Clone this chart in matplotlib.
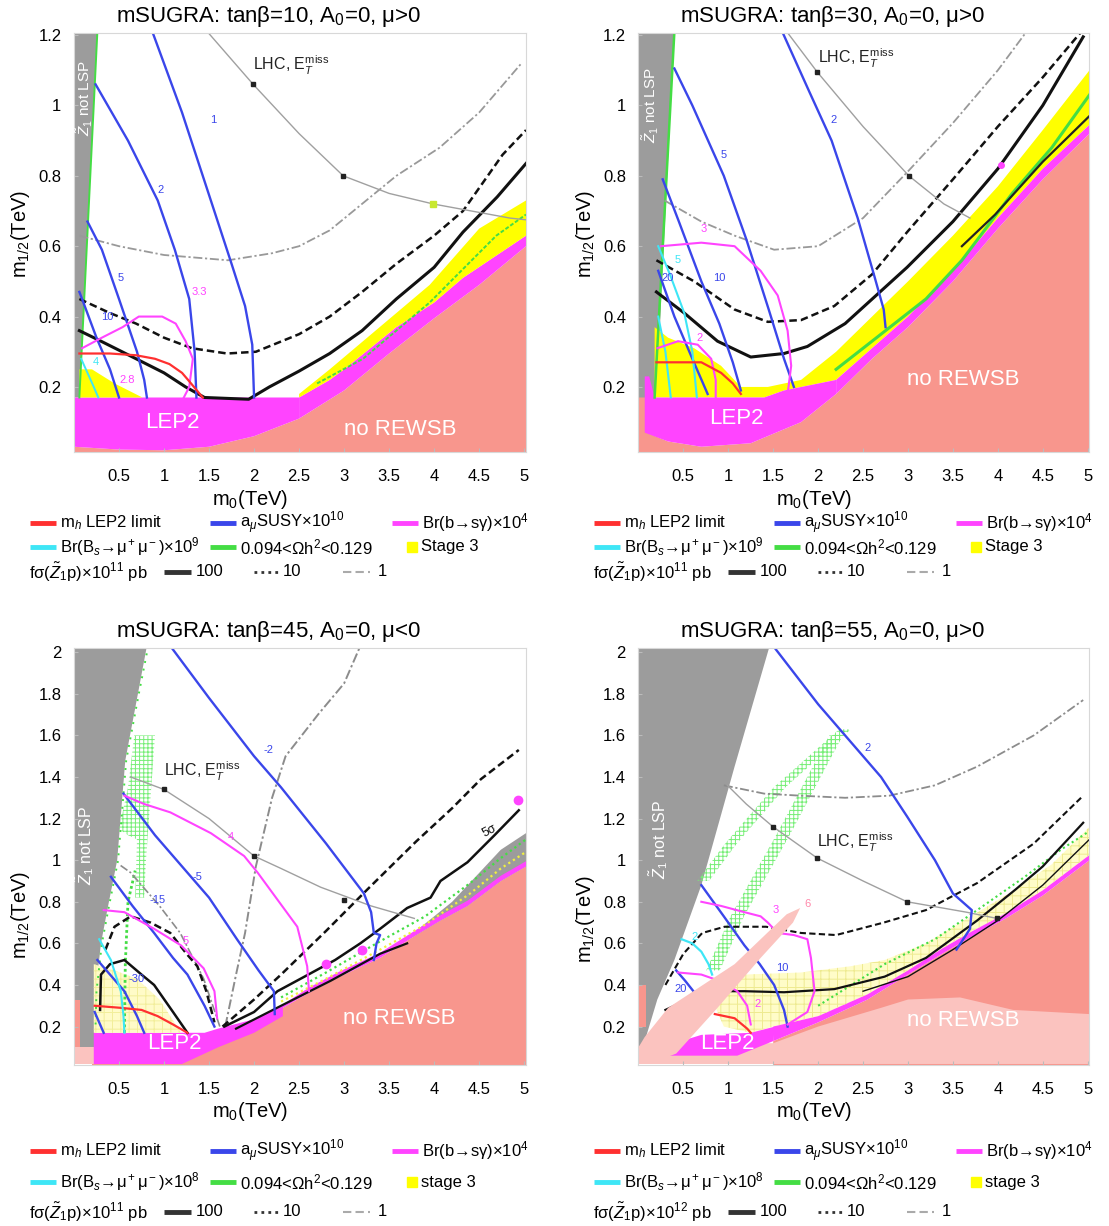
import matplotlib
matplotlib.use('Agg')
import matplotlib.pyplot as plt
from matplotlib.ticker import FuncFormatter

plt.rcParams['font.family'] = ['Liberation Sans', 'DejaVu Sans']
plt.rcParams['mathtext.fontset'] = 'custom'
plt.rcParams['mathtext.rm'] = 'Liberation Sans'
plt.rcParams['mathtext.it'] = 'Liberation Sans:italic'
plt.rcParams['mathtext.bf'] = 'Liberation Sans:bold'
plt.rcParams['hatch.linewidth'] = 0.7

SALMON = '#f8968d'
PALE = '#fbc3bf'
MAGENTA = '#ff44ff'
YELLOW = '#ffff00'
GRAY = '#9c9c9c'
GREEN = '#44dd44'
BLUE = '#3a46ea'
CYAN = '#3ee6f6'
RED = '#ff3030'

# ---------------- tan(beta)=10, mu>0 ----------------
tb10_not_lsp = [(0, 0.17), (0.06, 0.17), (0.26, 1.21), (0, 1.21)]
tb10_rewsb = [(0, 0.03), (0.5, 0.022), (1.0, 0.02), (1.5, 0.03), (2.0, 0.06), (2.5, 0.11),
              (3.0, 0.19), (3.5, 0.295), (4.0, 0.395), (4.5, 0.49), (5.02, 0.6)]
tb10_bsg_band = [(2.5, 0.17), (2.84, 0.22), (3.0, 0.25), (3.58, 0.37), (4.0, 0.44), (4.32, 0.51), (5.02, 0.63)]
tb10_stage3 = [(2.5, 0.18), (2.84, 0.25), (3.21, 0.33), (3.95, 0.49), (4.5, 0.65), (5.02, 0.73)]
tb10_stage3_low = [(0.06, 0.17), (0.06, 0.25), (0.2, 0.25), (0.45, 0.21), (0.76, 0.17)]
tb10_relic = [(2.7, 0.21), (3.21, 0.28), (3.95, 0.44), (4.69, 0.63), (5.02, 0.69)]
tb10_relic_edge = [(0.06, 0.17), (0.26, 1.21)]
tb10_sig100 = [(0.06, 0.36), (0.3, 0.33), (0.69, 0.28), (1.0, 0.24), (1.24, 0.2), (1.45, 0.17),
               (1.94, 0.165), (2.17, 0.2), (2.5, 0.245), (2.84, 0.295), (3.2, 0.36), (3.58, 0.45),
               (4.0, 0.54), (4.32, 0.64), (4.7, 0.74), (5.02, 0.835)]
tb10_sig10 = [(0.06, 0.45), (0.4, 0.41), (0.69, 0.38), (1.0, 0.34), (1.31, 0.31), (1.7, 0.295),
              (2.02, 0.3), (2.5, 0.35), (2.84, 0.4), (3.2, 0.47), (3.58, 0.55), (4.0, 0.63),
              (4.32, 0.7), (4.76, 0.86), (5.02, 0.93)]
tb10_sig1 = [(0.06, 0.63), (0.5, 0.6), (1.0, 0.575), (1.71, 0.56), (2.2, 0.58), (2.5, 0.6),
             (2.84, 0.645), (3.58, 0.8), (4.06, 0.88), (4.5, 0.98), (4.97, 1.12)]
tb10_lhc = [(1.48, 1.21), (1.99, 1.06), (2.5, 0.92), (2.99, 0.8), (3.5, 0.75), (3.99, 0.72), (4.84, 0.68), (5.02, 0.675)]
tb10_lhc_marks = [(1.99, 1.06), (2.99, 0.8), (3.99, 0.72)]
tb10_amu_1 = [(0.87, 1.21), (1.2, 0.98), (1.52, 0.73), (1.75, 0.55), (1.9, 0.43), (1.98, 0.32), (2.0, 0.17)]
tb10_amu_2 = [(0.24, 1.06), (0.6, 0.9), (0.93, 0.73), (1.12, 0.59), (1.28, 0.45), (1.34, 0.3), (1.36, 0.17)]
tb10_amu_5 = [(0.15, 0.67), (0.31, 0.59), (0.5, 0.45), (0.7, 0.3), (0.78, 0.22), (0.81, 0.17)]
tb10_amu_10 = [(0.06, 0.47), (0.09, 0.45), (0.25, 0.34), (0.4, 0.25), (0.5, 0.17)]
tb10_bsg = [(0.09, 0.31), (0.31, 0.34), (0.54, 0.37), (0.72, 0.4), (0.98, 0.4), (1.13, 0.38),
            (1.24, 0.33), (1.32, 0.28), (1.28, 0.2), (1.22, 0.17)]
tb10_mh = [(0.06, 0.295), (0.4, 0.295), (0.69, 0.29), (0.9, 0.28), (1.06, 0.265), (1.2, 0.24),
           (1.3, 0.21), (1.43, 0.17)]
tb10_bsmm = [(0.08, 0.28), (0.15, 0.24), (0.22, 0.2), (0.27, 0.17)]

# ---------------- tan(beta)=30, mu>0 ----------------
tb30_not_lsp = [(0, 0.17), (0.2, 0.17), (0.4, 1.21), (0, 1.21)]
tb30_rewsb = [(0, 0.08), (0.33, 0.045), (0.7, 0.03), (1.25, 0.04), (1.81, 0.1), (2.2, 0.18),
              (2.6, 0.28), (3.0, 0.37), (3.5, 0.5), (4.0, 0.65), (4.5, 0.79), (5.02, 0.92)]
tb30_rewsb_left = [(0, 0.03), (0.07, 0.03), (0.07, 0.22), (0, 0.22)]
tb30_lep2 = [(0.07, 0.07), (0.33, 0.045), (0.7, 0.03), (1.25, 0.04), (1.81, 0.1), (2.2, 0.18),
             (2.2, 0.22), (1.62, 0.19), (1.4, 0.17), (0.18, 0.17), (0.12, 0.23), (0.07, 0.23)]
tb30_bsg_band = [(2.2, 0.22), (2.6, 0.31), (3.0, 0.4), (3.5, 0.53), (4.0, 0.68), (4.5, 0.82), (5.02, 0.945)]
tb30_stage3 = [(0.18, 0.17), (0.18, 0.37), (0.33, 0.34), (0.62, 0.31), (0.92, 0.26), (1.14, 0.2),
               (1.44, 0.2), (1.81, 0.22), (2.2, 0.3), (2.6, 0.4), (3.0, 0.5), (3.5, 0.63),
               (4.0, 0.77), (4.5, 0.93), (5.02, 1.1)]
tb30_relic = [(2.2, 0.25), (2.8, 0.37), (3.2, 0.45), (3.6, 0.56), (4.16, 0.75), (4.6, 0.88), (5.02, 1.03)]
tb30_relic_edge = [(0.18, 0.17), (0.4, 1.21)]
tb30_sig100_edge = [(3.6, 0.6), (3.97, 0.69), (4.5, 0.84), (5.02, 0.97)]
tb30_sig100 = [(0.2, 0.47), (0.51, 0.41), (0.88, 0.33), (1.25, 0.285), (1.62, 0.295), (1.88, 0.315),
               (2.3, 0.38), (2.99, 0.54), (3.5, 0.67), (4.0, 0.82), (4.5, 1.0), (4.95, 1.195)]
tb30_sig10 = [(0.2, 0.56), (0.62, 0.5), (1.07, 0.42), (1.44, 0.385), (1.81, 0.39), (2.18, 0.43),
              (2.6, 0.52), (2.99, 0.64), (3.5, 0.79), (4.0, 0.94), (4.5, 1.08), (4.93, 1.21)]
tb30_sig1 = [(0.29, 0.73), (0.7, 0.67), (1.07, 0.63), (1.51, 0.59), (2.0, 0.6), (2.5, 0.68),
             (2.99, 0.81), (3.5, 0.95), (4.0, 1.1), (4.32, 1.21)]
tb30_lhc = [(1.65, 1.21), (1.99, 1.095), (2.5, 0.94), (3.01, 0.8), (3.4, 0.72), (3.69, 0.68)]
tb30_lhc_marks = [(1.99, 1.095), (3.01, 0.8)]
tb30_amu_2 = [(1.6, 1.21), (1.9, 1.04), (2.15, 0.9), (2.44, 0.68), (2.62, 0.52), (2.73, 0.42), (2.75, 0.37)]
tb30_amu_5 = [(0.4, 1.105), (0.6, 1.0), (0.95, 0.8), (1.2, 0.62), (1.45, 0.42), (1.62, 0.28), (1.73, 0.2)]
tb30_amu_10 = [(0.27, 0.79), (0.45, 0.67), (0.7, 0.5), (0.9, 0.38), (1.05, 0.27), (1.14, 0.19)]
tb30_amu_20 = [(0.22, 0.53), (0.4, 0.4), (0.6, 0.28), (0.77, 0.18)]
tb30_bsmm_5 = [(0.22, 0.6), (0.35, 0.52), (0.51, 0.41), (0.6, 0.3), (0.65, 0.17)]
tb30_bsmm_b = [(0.22, 0.4), (0.3, 0.3), (0.36, 0.17)]
tb30_bsg_3 = [(0.25, 0.6), (0.7, 0.61), (1.07, 0.6), (1.36, 0.53), (1.55, 0.46), (1.66, 0.36),
              (1.7, 0.26), (1.66, 0.18)]
tb30_bsg_2 = [(0.21, 0.31), (0.44, 0.33), (0.66, 0.32), (0.81, 0.28), (0.86, 0.22), (0.86, 0.17)]
tb30_mh = [(0.2, 0.27), (0.7, 0.27), (0.92, 0.24), (1.05, 0.21), (1.14, 0.18)]

# ---------------- tan(beta)=45, mu<0 ----------------
tb45_not_lsp = [(0, 0.02), (0.23, 0.02), (0.23, 0.21), (0.24, 0.37), (0.3, 0.6), (0.37, 0.76),
                (0.48, 1.0), (0.57, 1.48), (0.71, 1.8), (0.81, 2.03), (0, 2.03)]
tb45_rewsb_left = [(0, 0.1), (0.07, 0.1), (0.07, 0.33), (0, 0.33)]
tb45_pale_left = [(0, 0.02), (0.23, 0.02), (0.23, 0.1), (0, 0.1)]
tb45_rewsb = [(0.2, 0.03), (1.2, 0.03), (1.6, 0.17), (2.0, 0.22), (2.32, 0.29), (2.6, 0.36),
              (2.95, 0.44), (3.4, 0.53), (3.8, 0.64), (4.07, 0.71), (4.37, 0.78), (4.74, 0.9), (5.02, 0.97)]
tb45_lep2 = [(0.22, 0.02), (1.2, 0.02), (1.6, 0.1), (2.0, 0.17), (2.32, 0.25), (2.32, 0.3),
             (2.0, 0.235), (1.6, 0.19), (1.45, 0.17), (0.22, 0.17)]
tb45_bsg_band = [(2.3, 0.3), (2.6, 0.385), (2.95, 0.465), (3.4, 0.555), (3.8, 0.665), (4.07, 0.735),
                 (4.37, 0.805), (4.74, 0.925), (5.02, 0.995)]
tb45_gray_right = [(3.6, 0.59), (4.2, 0.8), (4.74, 1.05), (5.02, 1.13), (5.02, 0.97), (4.74, 0.9),
                   (4.37, 0.78), (4.07, 0.71), (3.8, 0.64)]
tb45_stage3_low = [(0.22, 0.17), (0.22, 0.5), (0.45, 0.47), (0.7, 0.43), (0.95, 0.33), (1.19, 0.17)]
tb45_stage3 = [(2.3, 0.32), (2.8, 0.43), (3.4, 0.57), (3.9, 0.69), (4.4, 0.84), (4.74, 0.96), (5.02, 1.04)]
tb45_relic = [(2.3, 0.34), (2.8, 0.46), (3.4, 0.61), (3.9, 0.73), (4.4, 0.89), (4.74, 1.01), (5.02, 1.1)]
tb45_relic_strip = [(0.5, 1.15), (0.6, 1.35), (0.67, 1.6), (0.9, 1.6), (0.85, 1.3), (0.8, 1.0),
                    (0.78, 0.82), (0.68, 0.82), (0.7, 1.1), (0.6, 1.12)]
tb45_relic_line = [(0.56, 0.17), (0.57, 0.5), (0.6, 0.8), (0.68, 0.95)]
tb45_relic_edge = [(0.24, 0.21), (0.25, 0.37), (0.31, 0.6), (0.38, 0.76), (0.49, 1.0), (0.58, 1.48),
                   (0.72, 1.8), (0.82, 2.02)]
tb45_sig100 = [(1.67, 0.2), (2.0, 0.27), (2.26, 0.37), (2.56, 0.44), (2.9, 0.52), (3.18, 0.6),
               (3.4, 0.67), (3.7, 0.77), (3.96, 0.82), (4.07, 0.9), (4.37, 0.99), (4.67, 1.12), (4.94, 1.24)]
tb45_sig100_b = [(1.8, 0.19), (2.3, 0.3), (2.85, 0.42), (3.4, 0.55), (3.7, 0.6)]
tb45_sig100_c = [(0.29, 0.28), (0.3, 0.45), (0.4, 0.5), (0.56, 0.52), (0.75, 0.45), (0.89, 0.4),
                 (1.1, 0.27), (1.26, 0.17)]
tb45_sig10 = [(1.65, 0.2), (2.0, 0.33), (2.3, 0.45), (2.8, 0.66), (3.26, 0.86), (3.8, 1.09),
              (4.2, 1.25), (4.52, 1.39), (4.94, 1.53)]
tb45_sig10_b = [(0.35, 0.57), (0.45, 0.68), (0.63, 0.73), (0.85, 0.7), (1.07, 0.65), (1.25, 0.55),
                (1.37, 0.49), (1.47, 0.37), (1.56, 0.22)]
tb45_sig1 = [(1.68, 0.2), (1.8, 0.45), (1.9, 0.65), (2.02, 0.97), (2.2, 1.3), (2.35, 1.5),
             (2.71, 1.7), (3.0, 1.85), (3.18, 2.03)]
tb45_sig1_b = [(1.62, 0.2), (1.44, 0.43), (1.18, 0.65), (0.95, 0.78), (0.81, 0.85), (0.63, 0.94), (0.5, 0.98)]
tb45_lhc = [(0.63, 1.4), (1.0, 1.34), (1.5, 1.2), (2.0, 1.02), (2.3, 0.96), (2.74, 0.87), (3.3, 0.78), (3.78, 0.72)]
tb45_lhc_marks = [(1.0, 1.34), (2.0, 1.02), (3.0, 0.81)]
tb45_amu_m2 = [(1.07, 2.03), (1.5, 1.78), (2.0, 1.5), (2.3, 1.35), (2.8, 1.08), (3.22, 0.84), (3.3, 0.75),
               (3.33, 0.65), (3.4, 0.64), (3.36, 0.6), (3.33, 0.52)]
tb45_amu_m5 = [(0.55, 1.32), (0.9, 1.12), (1.2, 0.97), (1.5, 0.82), (1.81, 0.62), (2.05, 0.47),
               (2.22, 0.37), (2.23, 0.26)]
tb45_amu_m15 = [(0.41, 0.92), (0.65, 0.78), (0.89, 0.65), (1.1, 0.53), (1.26, 0.45), (1.45, 0.3), (1.56, 0.2)]
tb45_amu_m30 = [(0.26, 0.52), (0.4, 0.45), (0.56, 0.37), (0.7, 0.25), (0.78, 0.17)]
tb45_amu_m50 = [(0.23, 0.27), (0.28, 0.22), (0.33, 0.17)]
tb45_bsg_4 = [(0.56, 1.31), (0.78, 1.27), (1.07, 1.23), (1.52, 1.13), (1.89, 1.02), (2.04, 0.94),
              (2.26, 0.81), (2.48, 0.68), (2.59, 0.49), (2.61, 0.37)]
tb45_bsg_5 = [(0.33, 0.76), (0.56, 0.75), (0.89, 0.67), (1.19, 0.59), (1.44, 0.48), (1.56, 0.37), (1.59, 0.24)]
tb45_mh = [(0.23, 0.3), (0.52, 0.29), (0.75, 0.28), (0.93, 0.25), (1.1, 0.21), (1.26, 0.17)]
tb45_bsmm = [(0.28, 0.62), (0.41, 0.52), (0.52, 0.37), (0.55, 0.25), (0.56, 0.17)]
tb45_bsg_dots = [(4.93, 1.29), (2.8, 0.5), (3.2, 0.57)]

# ---------------- tan(beta)=55, mu>0 ----------------
tb55_not_lsp = [(0, 0.1), (0.07, 0.13), (0.21, 0.33), (0.4, 0.52), (0.7, 0.88), (1.07, 1.45),
                (1.46, 2.03), (0, 2.03)]
tb55_rewsb_left = [(0, 0.2), (0.08, 0.2), (0.08, 0.4), (0, 0.4)]
tb55_rewsb = [(1.5, 0.13), (2.0, 0.22), (2.55, 0.33), (3.0, 0.45), (3.38, 0.55), (3.7, 0.63),
              (4.09, 0.72), (4.5, 0.83), (5.02, 1.0)]
tb55_pale = [(0, 0.02), (5.02, 0.02), (5.02, 0.26), (4.17, 0.28), (3.58, 0.34), (3.0, 0.33),
             (2.7, 0.29), (2.0, 0.2), (1.5, 0.12), (0, 0.12)]
tb55_wedge = [(0.0, 0.1), (0.3, 0.05), (0.42, 0.07), (0.88, 0.29), (1.36, 0.53), (1.72, 0.7),
              (1.8, 0.77), (1.65, 0.74), (1.07, 0.5), (0.33, 0.29), (0.07, 0.15)]
tb55_lep2 = [(0.33, 0.06), (1.1, 0.06), (1.5, 0.13), (1.52, 0.2), (1.25, 0.17), (0.7, 0.16), (0.33, 0.11)]
tb55_bsg_band = [(1.5, 0.2), (2.0, 0.25), (2.55, 0.355), (3.0, 0.47), (3.38, 0.575), (3.7, 0.655),
                 (4.09, 0.745), (4.5, 0.855), (5.02, 1.025)]
tb55_stage3 = [(0.85, 0.3), (1.0, 0.42), (1.18, 0.45), (1.81, 0.46), (2.36, 0.49), (2.74, 0.52),
               (3.2, 0.6), (3.7, 0.73), (4.16, 0.85), (4.6, 0.98), (5.02, 1.16)]
tb55_relic_u = [(0.72, 0.9), (1.03, 1.08), (1.57, 1.35), (2.3, 1.63)]
tb55_relic_l = [(0.83, 0.47), (1.1, 0.73), (1.62, 1.13), (2.2, 1.6)]
tb55_relic = [(2.0, 0.3), (2.74, 0.5), (3.3, 0.62), (3.77, 0.76), (4.3, 0.92), (4.7, 1.05), (5.02, 1.14)]
tb55_sig100 = [(0.3, 0.28), (0.55, 0.33), (0.83, 0.37), (1.18, 0.37), (1.62, 0.365), (2.18, 0.38),
               (2.74, 0.44), (3.2, 0.53), (3.77, 0.71), (4.2, 0.86), (4.5, 0.97), (4.95, 1.18)]
tb55_sig100_b = [(2.5, 0.37), (3.0, 0.44), (3.5, 0.57), (4.0, 0.71), (4.5, 0.88), (5.02, 1.1)]
tb55_sig10 = [(0.3, 0.4), (0.5, 0.55), (0.71, 0.65), (0.96, 0.68), (1.42, 0.68), (1.81, 0.65),
              (2.2, 0.64), (2.73, 0.7), (3.2, 0.76), (3.77, 0.89), (4.4, 1.08), (4.95, 1.31)]
tb55_sig1 = [(0.95, 1.36), (1.4, 1.32), (1.81, 1.31), (2.3, 1.3), (2.79, 1.31), (3.3, 1.36),
             (3.77, 1.45), (4.4, 1.6), (4.95, 1.77)]
tb55_lhc = [(0.99, 1.36), (1.2, 1.27), (1.5, 1.16), (1.99, 1.01), (2.5, 0.9), (2.99, 0.8), (3.65, 0.75), (3.99, 0.72)]
tb55_lhc_marks = [(1.5, 1.16), (1.99, 1.01), (2.99, 0.8), (3.99, 0.72)]
tb55_amu_2 = [(1.5, 2.03), (2.0, 1.75), (2.4, 1.55), (2.7, 1.4), (2.99, 1.21), (3.3, 1.0),
              (3.5, 0.84), (3.71, 0.76), (3.69, 0.67), (3.54, 0.57)]
tb55_amu_10 = [(0.7, 0.88), (0.95, 0.73), (1.18, 0.59), (1.35, 0.5), (1.51, 0.4), (1.62, 0.28), (1.66, 0.2)]
tb55_amu_20 = [(0.42, 0.47), (0.52, 0.42), (0.63, 0.36)]
tb55_bsg_3 = [(0.7, 0.8), (0.92, 0.78), (1.18, 0.75), (1.36, 0.73), (1.44, 0.7), (1.55, 0.65),
              (1.73, 0.64), (1.88, 0.62), (1.92, 0.53), (1.96, 0.37), (1.88, 0.27), (1.66, 0.21)]
tb55_bsg_2 = [(0.44, 0.46), (0.7, 0.45), (0.9, 0.42), (1.1, 0.37), (1.21, 0.3), (1.25, 0.21)]
tb55_mh = [(0.85, 0.26), (1.07, 0.24), (1.21, 0.19), (1.25, 0.17)]
tb55_bsmm = [(0.48, 0.62), (0.6, 0.6), (0.7, 0.56), (0.78, 0.5), (0.82, 0.45)]

xticks = [0.5, 1, 1.5, 2, 2.5, 3, 3.5, 4, 4.5, 5]


def xy(pts):
    return [p[0] for p in pts], [p[1] for p in pts]


def fill(ax, pts, color, z=1, **kw):
    x, y = xy(pts)
    ax.fill(x, y, color=color, lw=0, zorder=z, **kw)


def band(ax, lower, upper, color, z=1):
    fill(ax, lower + upper[::-1], color, z)


def under(ax, pts, ybot, color):
    fill(ax, [(pts[0][0], ybot)] + pts + [(pts[-1][0], ybot)], color)


def hatched(ax, pts, face, edge, pattern, z=1.5):
    x, y = xy(pts)
    ax.fill(x, y, facecolor=face, edgecolor=edge, hatch=pattern, lw=0, zorder=z)


def strip(ax, center, hw):
    left = [(x - hw, y) for x, y in center]
    right = [(x + hw, y) for x, y in center]
    hatched(ax, left + right[::-1], 'none', '#77ee77', '++++')


def line(ax, pts, color, lw=1.7, z=2, **kw):
    x, y = xy(pts)
    ax.plot(x, y, color=color, lw=lw, zorder=z, **kw)


def sig(ax, pts, kind, lw=None, c1='#8c8c8c'):
    if kind == 100:
        line(ax, pts, '#111111', lw=lw or 2.2)
    elif kind == 10:
        line(ax, pts, '#111111', lw=lw or 1.8, dashes=(3, 1.6))
    else:
        line(ax, pts, c1, lw=lw or 1.3, dashes=(5, 1.5, 1.2, 1.5))


def lhc(ax, pts, marks, lx, ly):
    line(ax, pts, '#a0a0a0', lw=1.0)
    mx, my = xy(marks)
    ax.plot(mx, my, 's', color='#222222', ms=3, zorder=3)
    ax.text(lx, ly, r'LHC, E$_T^{\rm miss}$', fontsize=11.5, color='#222222', zorder=5)


def lab(ax, x, y, s, color, size=8, **kw):
    ax.text(x, y, s, color=color, fontsize=size, ha='center', va='center', zorder=5, **kw)


def white(ax, x, y, s, size=16, rot=0):
    ax.text(x, y, s, color='white', fontsize=size, ha='center', va='center', rotation=rot, zorder=6)


def panel(rect, ymax, yticks, title, ylab_y):
    ax = fig.add_axes(rect)
    ax.set_xlim(0, 5.02)
    ax.set_ylim(0.015, ymax)
    ax.set_xticks(xticks)
    ax.set_yticks(yticks)
    fmt = FuncFormatter(lambda v, p: '%g' % v)
    ax.xaxis.set_major_formatter(fmt)
    ax.yaxis.set_major_formatter(fmt)
    ax.tick_params(direction='in', length=3, color='#bbbbbb', labelsize=12)
    ax.tick_params(axis='x', pad=12)
    ax.tick_params(axis='y', pad=9)
    for s in ax.spines.values():
        s.set_color('#d8d8d8')
    ax.set_title(title, fontsize=16, pad=8, x=0.43)
    ax.set_xlabel('m$_0$(TeV)', fontsize=14.5)
    ax.set_ylabel('m$_{1/2}$(TeV)', fontsize=14.5)
    ax.xaxis.set_label_coords(0.39, -0.085)
    ax.yaxis.set_label_coords(-0.092, ylab_y)
    return ax


fig = plt.figure(figsize=(11.09, 12.26), dpi=100)
top_ticks = [0.2, 0.4, 0.6, 0.8, 1.0, 1.2]
bot_ticks = [0.2, 0.4, 0.6, 0.8, 1.0, 1.2, 1.4, 1.6, 1.8, 2.0]

# ---- panel tb10 ----
ax = panel([0.0667, 0.6313, 0.4076, 0.3418], 1.206, top_ticks,
           r'mSUGRA: tanβ=10, A$_0$=0, μ>0', 0.52)
under(ax, tb10_rewsb, 0.0, SALMON)
fill(ax, tb10_not_lsp, GRAY)
band(ax, tb10_rewsb[:6], [(0, 0.17), (2.5, 0.17)], MAGENTA)
band(ax, tb10_rewsb[5:], tb10_bsg_band, MAGENTA)
band(ax, tb10_bsg_band, tb10_stage3, YELLOW)
fill(ax, tb10_stage3_low, YELLOW)
line(ax, tb10_relic, GREEN, lw=1.4, ls=(0, (2, 1)))
line(ax, tb10_relic_edge, GREEN, lw=1.4)
sig(ax, tb10_sig1, 1, c1='#999999')
sig(ax, tb10_sig10, 10)
sig(ax, tb10_sig100, 100)
lhc(ax, tb10_lhc, tb10_lhc_marks, 1.99, 1.1)
ax.plot([3.99], [0.72], 's', color='#c8e830', ms=4, zorder=3)
for pts in (tb10_amu_1, tb10_amu_2, tb10_amu_5, tb10_amu_10):
    line(ax, pts, BLUE)
line(ax, tb10_bsg, MAGENTA, lw=1.5)
line(ax, tb10_mh, RED, lw=1.6)
line(ax, tb10_bsmm, CYAN, lw=1.4)
lab(ax, 1.55, 0.96, '1', BLUE)
lab(ax, 0.96, 0.76, '2', BLUE)
lab(ax, 0.52, 0.51, '5', BLUE)
lab(ax, 0.37, 0.40, '10', BLUE)
lab(ax, 1.39, 0.47, '3.3', MAGENTA)
lab(ax, 0.59, 0.22, '2.8', MAGENTA)
lab(ax, 0.24, 0.27, '4', CYAN)
white(ax, 1.09, 0.10, 'LEP2')
white(ax, 3.62, 0.08, 'no REWSB')
white(ax, 0.12, 1.02, r'$\tilde{Z}_1$ not LSP', size=11, rot=90)

# ---- panel tb30 ----
ax = panel([0.5757, 0.6313, 0.4067, 0.3418], 1.206, top_ticks,
           r'mSUGRA: tanβ=30, A$_0$=0, μ>0', 0.52)
under(ax, tb30_rewsb, 0.0, SALMON)
fill(ax, tb30_rewsb_left, SALMON)
fill(ax, tb30_not_lsp, GRAY)
band(ax, [(0.18, 0.17), (1.4, 0.17), (1.62, 0.19)] + tb30_bsg_band, tb30_stage3, YELLOW)
fill(ax, tb30_lep2, MAGENTA)
band(ax, tb30_rewsb[5:], tb30_bsg_band, MAGENTA)
line(ax, tb30_relic, GREEN, lw=2.2)
line(ax, tb30_relic_edge, GREEN, lw=1.8)
line(ax, tb30_sig100_edge, '#222222', lw=1.6)
sig(ax, tb30_sig1, 1, c1='#999999')
sig(ax, tb30_sig10, 10)
sig(ax, tb30_sig100, 100)
lhc(ax, tb30_lhc, tb30_lhc_marks, 2.0, 1.12)
for pts in (tb30_amu_2, tb30_amu_5, tb30_amu_10, tb30_amu_20):
    line(ax, pts, BLUE)
line(ax, tb30_bsmm_5, CYAN, lw=1.5)
line(ax, tb30_bsmm_b, CYAN, lw=1.5)
line(ax, tb30_bsg_3, MAGENTA, lw=1.5)
line(ax, tb30_bsg_2, MAGENTA, lw=1.5)
line(ax, tb30_mh, RED, lw=1.6)
ax.plot([4.03], [0.83], 'o', color=MAGENTA, ms=4, zorder=3)
lab(ax, 2.17, 0.96, '2', BLUE)
lab(ax, 0.95, 0.86, '5', BLUE)
lab(ax, 0.9, 0.51, '10', BLUE)
lab(ax, 0.33, 0.51, '20', BLUE)
lab(ax, 0.44, 0.56, '5', CYAN)
lab(ax, 0.73, 0.65, '3', MAGENTA)
lab(ax, 0.68, 0.34, '2', MAGENTA)
white(ax, 1.09, 0.11, 'LEP2')
white(ax, 3.62, 0.22, 'no REWSB')
white(ax, 0.14, 1.0, r'$\tilde{Z}_1$ not LSP', size=11, rot=90)

# ---- panel tb45 ----
ax = panel([0.0667, 0.1313, 0.4076, 0.3401], 2.02, bot_ticks,
           r'mSUGRA: tanβ=45, A$_0$=0, μ<0', 0.36)
under(ax, tb45_rewsb, 0.0, SALMON)
fill(ax, tb45_not_lsp, GRAY)
fill(ax, tb45_rewsb_left, SALMON)
fill(ax, tb45_pale_left, PALE)
fill(ax, tb45_gray_right, GRAY)
hatched(ax, tb45_stage3_low, '#fffbc8', '#f2ee9a', '++')
hatched(ax, tb45_relic_strip, 'none', '#77ee77', '++++')
fill(ax, tb45_lep2, MAGENTA)
band(ax, tb45_rewsb[3:], tb45_bsg_band, MAGENTA)
line(ax, tb45_stage3, '#f0f040', lw=1.6, ls=(0, (1, 1.5)))
line(ax, tb45_relic, GREEN, lw=1.6, ls=(0, (1, 1.5)))
line(ax, tb45_relic_line, GREEN, lw=2.0, ls=(0, (1, 1)))
line(ax, tb45_relic_edge, GREEN, lw=1.4, ls=(0, (1, 3)))
sig(ax, tb45_sig1, 1, lw=1.4)
sig(ax, tb45_sig1_b, 1, lw=1.2)
sig(ax, tb45_sig10, 10)
sig(ax, tb45_sig10_b, 10)
sig(ax, tb45_sig100, 100, lw=1.8)
sig(ax, tb45_sig100_b, 100, lw=1.6)
sig(ax, tb45_sig100_c, 100, lw=1.8)
lhc(ax, tb45_lhc, tb45_lhc_marks, 1.0, 1.4)
for pts in (tb45_amu_m2, tb45_amu_m5, tb45_amu_m15, tb45_amu_m30, tb45_amu_m50):
    line(ax, pts, BLUE)
line(ax, tb45_bsg_4, MAGENTA, lw=1.5)
line(ax, tb45_bsg_5, MAGENTA, lw=1.5)
line(ax, tb45_mh, RED, lw=1.6)
line(ax, tb45_bsmm, CYAN, lw=1.5)
dx, dy = xy(tb45_bsg_dots)
ax.plot(dx, dy, 'o', color=MAGENTA, ms=6, zorder=3)
lab(ax, 2.16, 1.53, '-2', BLUE)
lab(ax, 1.37, 0.92, '-5', BLUE)
lab(ax, 0.93, 0.81, '-15', BLUE)
lab(ax, 0.7, 0.43, '-30', BLUE)
lab(ax, 1.74, 1.11, '4', MAGENTA)
lab(ax, 1.24, 0.61, '5', MAGENTA)
lab(ax, 4.62, 1.14, '5σ', '#111111', size=9, rotation=28)
white(ax, 1.11, 0.12, 'LEP2')
white(ax, 3.61, 0.24, 'no REWSB')
white(ax, 0.12, 1.07, r'$\tilde{Z}_1$ not LSP', size=11.5, rot=90)

# ---- panel tb55 ----
ax = panel([0.5757, 0.1313, 0.4067, 0.3401], 2.02, bot_ticks,
           r'mSUGRA: tanβ=55, A$_0$=0, μ>0', 0.35)
under(ax, tb55_rewsb, 0.0, SALMON)
fill(ax, tb55_pale, PALE)
fill(ax, tb55_not_lsp, GRAY)
fill(ax, tb55_rewsb_left, SALMON)
band(ax, [(0.95, 0.2), (1.25, 0.17)] + tb55_bsg_band, tb55_stage3, '#fffcc8')
hatched(ax, [(0.95, 0.2), (1.25, 0.17)] + tb55_bsg_band + tb55_stage3[::-1], 'none', '#eeea90', '++')
strip(ax, tb55_relic_u, 0.065)
strip(ax, tb55_relic_l, 0.075)
fill(ax, tb55_lep2, MAGENTA)
band(ax, tb55_rewsb, tb55_bsg_band, MAGENTA)
line(ax, tb55_relic, GREEN, lw=1.5, ls=(0, (1, 1.5)))
sig(ax, tb55_sig1, 1, lw=1.3)
sig(ax, tb55_sig10, 10, lw=1.5)
sig(ax, tb55_sig100, 100, lw=1.6)
sig(ax, tb55_sig100_b, 100, lw=1.0)
lhc(ax, tb55_lhc, tb55_lhc_marks, 1.99, 1.06)
for pts in (tb55_amu_2, tb55_amu_10, tb55_amu_20):
    line(ax, pts, BLUE)
line(ax, tb55_bsg_3, MAGENTA, lw=1.5)
line(ax, tb55_bsg_2, MAGENTA, lw=1.5)
line(ax, tb55_mh, RED, lw=1.6)
line(ax, tb55_bsmm, CYAN, lw=1.6)
fill(ax, tb55_wedge, PALE, z=3)
lab(ax, 2.55, 1.54, '2', BLUE)
lab(ax, 1.6, 0.48, '10', BLUE)
lab(ax, 0.47, 0.38, '20', BLUE)
lab(ax, 1.53, 0.76, '3', MAGENTA)
lab(ax, 1.88, 0.79, '6', '#ff88aa')
lab(ax, 1.33, 0.31, '2', MAGENTA)
lab(ax, 0.62, 0.63, '2', CYAN)
white(ax, 0.99, 0.12, 'LEP2')
white(ax, 3.62, 0.23, 'no REWSB')
white(ax, 0.22, 1.1, r'$\tilde{Z}_1$ not LSP', size=11.5, rot=90)

# ---- legends (figure pixel coordinates) ----
lg = fig.add_axes([0, 0, 1, 1])
lg.set_xlim(0, 1109)
lg.set_ylim(1226, 0)
lg.axis('off')


def legend(ox, rows, bsmm, stage, sigma):
    y1, y2, y3 = rows
    items = [(30, y1, RED, r'm$_h$ LEP2 limit'),
             (210, y1, BLUE, r'a$_\mu$SUSY×10$^{10}$'),
             (392, y1, MAGENTA, r'Br(b→sγ)×10$^4$'),
             (30, y2, CYAN, bsmm),
             (210, y2, GREEN, r'0.094<Ωh$^2$<0.129')]
    for x, y, c, s in items:
        lg.plot([ox + x, ox + x + 26], [y, y], color=c, lw=3.5, solid_capstyle='butt')
        lg.text(ox + x + 30, y, s, va='center', fontsize=12)
    lg.plot([ox + 412], [y2], 's', color=YELLOW, ms=7)
    lg.text(ox + 421, y2, stage, va='center', fontsize=12)
    lg.text(ox + 29, y3, sigma, va='center', fontsize=12)
    lg.plot([ox + 164, ox + 191], [y3, y3], color='#333333', lw=3.5, solid_capstyle='butt')
    lg.text(ox + 196, y3, '100', va='center', fontsize=12)
    lg.plot([ox + 254, ox + 279], [y3, y3], color='#333333', lw=2, ls=(0, (1, 1.5)))
    lg.text(ox + 283, y3, '10', va='center', fontsize=12)
    lg.plot([ox + 343, ox + 370], [y3, y3], color='#aaaaaa', lw=1.5, dashes=(4, 2))
    lg.text(ox + 378, y3, '1', va='center', fontsize=12)


legend(0, (523, 547, 572), r'Br(B$_s$→μ$^+$μ$^-$)×10$^9$', 'Stage 3',
       r'fσ($\tilde{Z}_1$p)×10$^{11}$ pb')
legend(564, (523, 547, 572), r'Br(B$_s$→μ$^+$μ$^-$)×10$^9$', 'Stage 3',
       r'fσ($\tilde{Z}_1$p)×10$^{11}$ pb')
legend(0, (1151, 1182, 1212), r'Br(B$_s$→μ$^+$μ$^-$)×10$^8$', 'stage 3',
       r'fσ($\tilde{Z}_1$p)×10$^{11}$ pb')
legend(564, (1151, 1182, 1212), r'Br(B$_s$→μ$^+$μ$^-$)×10$^8$', 'stage 3',
       r'fσ($\tilde{Z}_1$p)×10$^{12}$ pb')

fig.savefig('out.png', dpi=100)
